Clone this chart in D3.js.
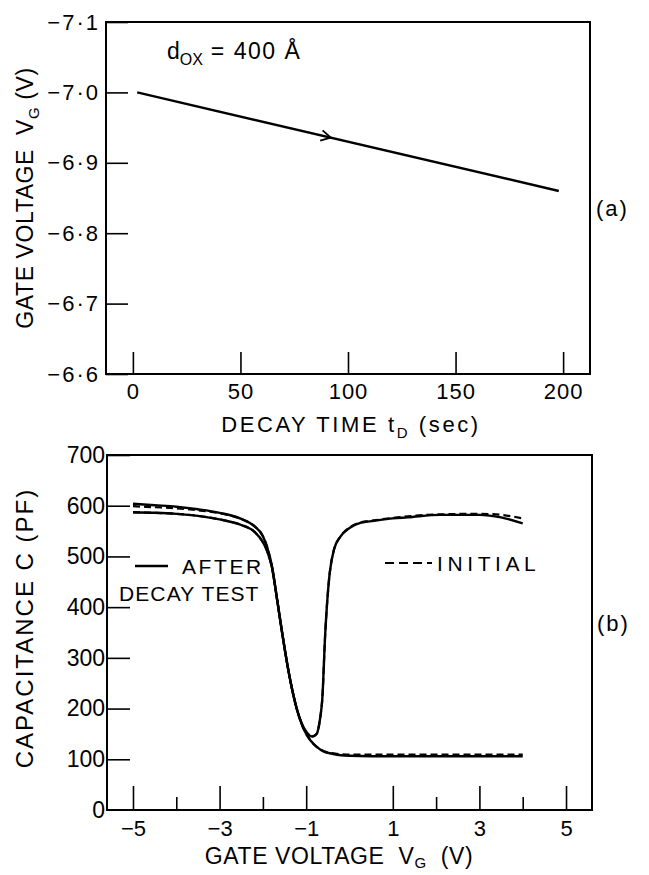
<!DOCTYPE html>
<html>
<head>
<meta charset="utf-8">
<script src="https://cdn.jsdelivr.net/npm/d3@7"></script>
<style>
  body { margin: 0; background: #fff; }
  svg text { font-family: "Liberation Sans", Arial, sans-serif; fill: #000; }
</style>
</head>
<body>
<svg id="chart" width="649" height="875"></svg>
<script>
// (a) decay of gate voltage
const decayTime = [2, 198];
const decayGateV = [-7.0, -6.86];
const arrowTime = 92;
const topXTicks = [0, 50, 100, 150, 200];
const topYTicks = [-7.1, -7.0, -6.9, -6.8, -6.7, -6.6];

// (b) C-V curves, after decay test (solid) and initial (dashed)
const hfV = [-5, -4.5, -4, -3.5, -3, -2.5, -2.2, -2.0, -1.9, -1.79, -1.67, -1.56, -1.4, -1.25, -1.06, -0.9, -0.75, -0.59, -0.4, -0.2, 0, 1, 2, 3, 4];
const hfAfter = [604, 601, 598, 593, 586, 574, 560, 540, 518, 480, 414, 352, 270, 210, 160, 137, 124, 115, 111, 108, 107, 106, 106, 106, 106];
const hfInitial = [599, 597, 595, 591, 585, 574, 560, 540, 518, 480, 414, 352, 270, 210, 160, 137, 124, 116, 112, 110, 109, 109, 109, 109, 109];

const lfV = [-5, -4.5, -4, -3.5, -3, -2.5, -2.2, -2.0, -1.9, -1.79, -1.67, -1.56, -1.4, -1.25, -1.1, -0.98, -0.86, -0.76, -0.68, -0.63, -0.56, -0.48, -0.36, -0.21, 0, 0.25, 0.56, 1.0, 1.34, 2.1, 3.0, 3.5, 4.0];
const lfAfter = [587, 586, 584, 580, 573, 562, 549, 528, 510, 478, 414, 352, 270, 210, 170, 152, 145, 150, 180, 217, 349, 448, 513, 539, 556, 566, 570, 575, 577, 582, 582, 577, 565];
const lfInitial = [587, 586, 584, 580, 573, 562, 549, 528, 510, 478, 414, 352, 270, 210, 170, 152, 145, 150, 180, 217, 349, 448, 513, 539, 557, 567, 571, 576, 579, 583, 584, 582, 575];

const botXMajor = [-5, -3, -1, 1, 3, 5];
const botXMinor = [-4, -2, 0, 2, 4];
const botYTicks = [0, 100, 200, 300, 400, 500, 600, 700];

const svg = d3.select("#chart");
const minus = (s) => s.replace("-", "\u2212");

// ---------- panel (a) ----------
const xa = d3.scaleLinear().domain([-12.5, 212.5]).range([106, 590]);
const ya = d3.scaleLinear().domain([-7.1, -6.6]).range([22, 374]);

const ga = svg.append("g");

ga.append("g")
  .attr("transform", `translate(0,${ya.range()[1]})`)
  .call(d3.axisBottom(xa).tickValues(topXTicks).tickSize(-22).tickPadding(9))
  .call((g) => g.select(".domain").remove())
  .call((g) => g.selectAll("line").attr("stroke-width", 1.6))
  .call((g) =>
    g.selectAll("text").style("font-size", "22px").style("letter-spacing", "1px").attr("fill", "#000")
  );

ga.append("g")
  .attr("transform", `translate(${xa.range()[0]},0)`)
  .call(
    d3.axisLeft(ya)
      .tickValues(topYTicks)
      .tickSize(-22)
      .tickPadding(6)
      .tickFormat((d) => minus(d.toFixed(1)).replace(".", "\u00b7"))
  )
  .call((g) => g.select(".domain").remove())
  .call((g) => g.selectAll("line").attr("stroke-width", 1.6))
  .call((g) =>
    g.selectAll("text").style("font-size", "22px").style("letter-spacing", "2px").attr("fill", "#000")
  );

ga.append("rect")
  .attr("x", xa.range()[0])
  .attr("y", ya.range()[0])
  .attr("width", xa.range()[1] - xa.range()[0])
  .attr("height", ya.range()[1] - ya.range()[0])
  .attr("fill", "none")
  .attr("stroke", "#000")
  .attr("stroke-width", 2);

const decayPts = decayTime.map((t, i) => [xa(t), ya(decayGateV[i])]);
ga.append("path")
  .attr("d", d3.line()(decayPts))
  .attr("fill", "none")
  .attr("stroke", "#000")
  .attr("stroke-width", 2.4);

// open arrowhead on the line
const frac = (arrowTime - decayTime[0]) / (decayTime[1] - decayTime[0]);
const arrowV = decayGateV[0] + frac * (decayGateV[1] - decayGateV[0]);
const ax = xa(arrowTime);
const ay = ya(arrowV);
const ang = Math.atan2(decayPts[1][1] - decayPts[0][1], decayPts[1][0] - decayPts[0][0]);
const wing = 11;
const w1 = [ax - wing * Math.cos(ang - 0.5), ay - wing * Math.sin(ang - 0.5)];
const w2 = [ax - wing * Math.cos(ang + 0.5), ay - wing * Math.sin(ang + 0.5)];
ga.append("path")
  .attr("d", d3.line()([w1, [ax, ay], w2]))
  .attr("fill", "none")
  .attr("stroke", "#000")
  .attr("stroke-width", 1.8);

const dox = ga.append("text").attr("x", 167).attr("y", 59).style("font-size", "23px");
dox.append("tspan").text("d");
dox.append("tspan").attr("dy", 6).style("font-size", "16px").text("OX");
dox.append("tspan").attr("dy", -6).style("letter-spacing", "1.5px").text(" = 400 \u00c5");

ga.append("text")
  .attr("x", 351)
  .attr("y", 432)
  .attr("text-anchor", "middle")
  .style("font-size", "22px")
  .style("letter-spacing", "2.6px")
  .call((t) => {
    t.append("tspan").text("DECAY TIME t");
    t.append("tspan").attr("dy", 6).style("font-size", "15px").text("D");
    t.append("tspan").attr("dy", -6).text("\u00a0(sec)");
  });

ga.append("text")
  .attr("transform", "translate(33,198) rotate(-90)")
  .attr("text-anchor", "middle")
  .style("font-size", "23px")
  .style("letter-spacing", "0.6px")
  .call((t) => {
    t.append("tspan").text("GATE VOLTAGE\u00a0 V");
    t.append("tspan").attr("dy", 6).style("font-size", "15px").text("G");
    t.append("tspan").attr("dy", -6).text(" (V)");
  });

ga.append("text")
  .attr("x", 596)
  .attr("y", 216)
  .style("font-size", "22px")
  .style("letter-spacing", "2px")
  .text("(a)");

// ---------- panel (b) ----------
const xb = d3.scaleLinear().domain([-5.6, 5.6]).range([107, 592]);
const yb = d3.scaleLinear().domain([0, 700]).range([810, 455]);

const gb = svg.append("g");

gb.append("g")
  .attr("transform", `translate(0,${yb.range()[0]})`)
  .call(
    d3.axisBottom(xb)
      .tickValues(botXMajor)
      .tickSize(-24)
      .tickPadding(10)
      .tickFormat((d) => minus(String(d)))
  )
  .call((g) => g.select(".domain").remove())
  .call((g) => g.selectAll("line").attr("stroke-width", 1.6))
  .call((g) => g.selectAll("text").style("font-size", "22px").attr("fill", "#000"));

gb.append("g")
  .attr("transform", `translate(0,${yb.range()[0]})`)
  .call(d3.axisBottom(xb).tickValues(botXMinor).tickSize(-13).tickFormat(""))
  .call((g) => g.select(".domain").remove())
  .call((g) => g.selectAll("line").attr("stroke-width", 1.6));

gb.append("g")
  .attr("transform", `translate(${xb.range()[0]},0)`)
  .call(d3.axisLeft(yb).tickValues(botYTicks).tickSize(-23).tickPadding(2))
  .call((g) => g.select(".domain").remove())
  .call((g) => g.selectAll("line").attr("stroke-width", 1.6))
  .call((g) => g.selectAll("text").style("font-size", "23px").attr("fill", "#000"));

// the 0 tick on the axis corner has no visible inner mark
gb.selectAll(".tick").filter((d) => d === 0).select("line").remove();

gb.append("rect")
  .attr("x", xb.range()[0])
  .attr("y", yb.range()[1])
  .attr("width", xb.range()[1] - xb.range()[0])
  .attr("height", yb.range()[0] - yb.range()[1])
  .attr("fill", "none")
  .attr("stroke", "#000")
  .attr("stroke-width", 2);

const cv = d3
  .line()
  .x((d) => xb(d[0]))
  .y((d) => yb(d[1]))
  .curve(d3.curveMonotoneX);

const series = [
  { v: hfV, c: hfInitial, dash: "7,4", w: 2.2 },
  { v: lfV, c: lfInitial, dash: "7,4", w: 2.2 },
  { v: hfV, c: hfAfter, dash: null, w: 2.4 },
  { v: lfV, c: lfAfter, dash: null, w: 2.4 },
];

gb.selectAll(".cv")
  .data(series)
  .join("path")
  .attr("class", "cv")
  .attr("d", (s) => cv(s.v.map((v, i) => [v, s.c[i]])))
  .attr("fill", "none")
  .attr("stroke", "#000")
  .attr("stroke-width", (s) => s.w)
  .attr("stroke-dasharray", (s) => s.dash);

// legend
gb.append("line")
  .attr("x1", 135).attr("x2", 168)
  .attr("y1", 566).attr("y2", 566)
  .attr("stroke", "#000").attr("stroke-width", 2.4);
gb.append("text")
  .attr("x", 182).attr("y", 574)
  .style("font-size", "21px").style("letter-spacing", "2.6px")
  .text("AFTER");
gb.append("text")
  .attr("x", 119).attr("y", 601)
  .style("font-size", "21px").style("letter-spacing", "1.1px")
  .text("DECAY TEST");

gb.append("line")
  .attr("x1", 385).attr("x2", 432)
  .attr("y1", 563).attr("y2", 563)
  .attr("stroke", "#000").attr("stroke-width", 2)
  .attr("stroke-dasharray", "9,5");
gb.append("text")
  .attr("x", 437).attr("y", 571)
  .style("font-size", "21px").style("letter-spacing", "4.6px")
  .text("INITIAL");

gb.append("text")
  .attr("x", 339)
  .attr("y", 864)
  .attr("text-anchor", "middle")
  .style("font-size", "23px")
  .style("letter-spacing", "0.6px")
  .call((t) => {
    t.append("tspan").text("GATE VOLTAGE\u00a0 V");
    t.append("tspan").attr("dy", 4).style("font-size", "15px").text("G");
    t.append("tspan").attr("dy", -4).text("\u00a0\u00a0(V)");
  });

gb.append("text")
  .attr("transform", "translate(33,628) rotate(-90)")
  .attr("text-anchor", "middle")
  .style("font-size", "24px")
  .style("letter-spacing", "2px")
  .text("CAPACITANCE C (PF)");

gb.append("text")
  .attr("x", 597)
  .attr("y", 631)
  .style("font-size", "22px")
  .style("letter-spacing", "2px")
  .text("(b)");
</script>
</body>
</html>
